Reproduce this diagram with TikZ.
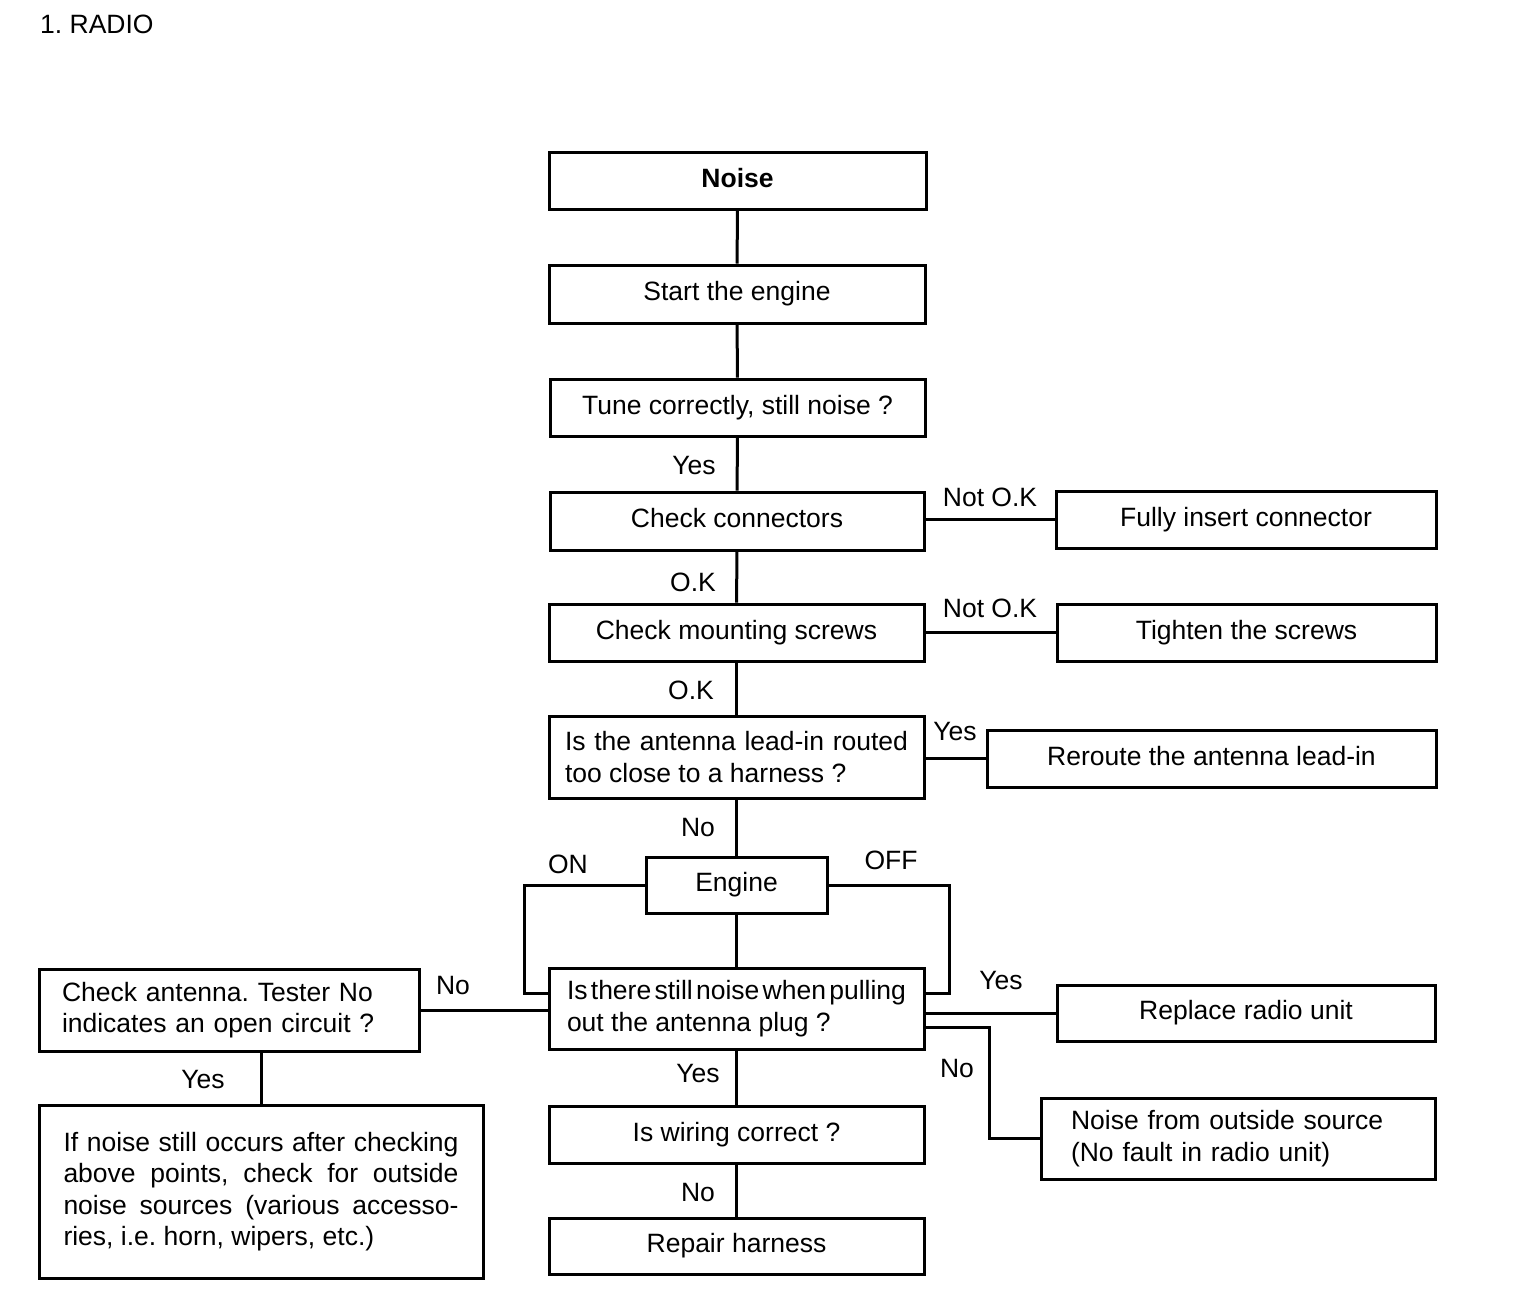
\documentclass[tikz,border=0pt]{standalone}
\usepackage{fontspec}
\setmainfont{Liberation Sans}
\frenchspacing
\begin{document}
\begin{tikzpicture}[x=1pt,y=-1pt,
  txt/.style={font=\fontsize{26.5}{31.5}\selectfont\frenchspacing},
  box/.style={txt,draw,line width=3pt,inner sep=0pt,align=center,text height=19pt,text depth=5.6pt},
  mbox/.style={txt,draw,line width=3pt,inner ysep=0pt},
  lbl/.style={txt,inner sep=0pt,text height=19pt,text depth=0pt},
  conn/.style={line width=3pt}]
\useasboundingbox (0,0) rectangle (1520,1304);
\node[txt,anchor=west,inner sep=0pt] (title) at (40,24) {1. RADIO};
% main column
\node[box,minimum width=377pt,minimum height=57pt,font=\fontsize{26.5}{31.5}\selectfont\bfseries] (noise) at (737.5,180.5) {Noise};
\node[box,minimum width=376pt,minimum height=58pt] (start) at (737,294) {Start the engine};
\node[box,minimum width=375pt,minimum height=57pt] (tune) at (737.5,407.5) {Tune correctly, still noise ?};
\node[box,minimum width=374pt,minimum height=58pt] (conn) at (737,521) {Check connectors};
\node[box,minimum width=380pt,minimum height=57pt] (fully) at (1246,519.5) {Fully insert connector};
\node[box,minimum width=375pt,minimum height=57pt] (screws) at (736.5,632.5) {Check mounting screws};
\node[box,minimum width=379pt,minimum height=57pt] (tighten) at (1246.5,632.5) {Tighten the screws};
\node[mbox,inner xsep=16pt,text width=343pt,minimum height=82pt,align=justify] (lead) at (736.5,757) {Is the antenna lead-in routed too close to a harness ?};
\node[box,minimum width=449pt,minimum height=57pt] (reroute) at (1211.5,758.5) {Reroute the antenna lead-in};
\node[box,minimum width=181pt,minimum height=56pt] (engine) at (736.5,885) {Engine};
\node[mbox,inner xsep=18pt,text width=339pt,minimum height=81pt,align=justify] (pull) at (736.5,1008.5) {{\spaceskip=0.12em plus 1em\relax Is there still noise when pulling}\linebreak out the antenna plug ?};
\node[box,minimum width=378pt,minimum height=56pt] (replace) at (1246,1013) {Replace radio unit};
\node[mbox,inner xsep=30pt,text width=334pt,minimum height=81pt,align=left] (outside) at (1238,1138.5) {Noise from outside source\\(No fault in radio unit)};
\node[mbox,inner xsep=23pt,text width=334pt,minimum height=82pt,align=left] (antenna) at (229,1010) {Check antenna. Tester No\\indicates an open circuit ?};
\node[mbox,inner xsep=24.5pt,text width=395pt,minimum height=173pt,align=justify] (ifnoise) at (261,1191.5) {If noise still occurs after checking\linebreak above points, check for outside\linebreak noise sources (various accesso-\linebreak ries, i.e. horn, wipers, etc.)};
\node[box,minimum width=375pt,minimum height=57pt] (wiring) at (736.5,1134.5) {Is wiring correct ?};
\node[box,minimum width=375pt,minimum height=56pt] (repair) at (736.5,1246) {Repair harness};
% connectors
\draw[conn] (noise) -- (start);
\draw[conn] (start) -- (tune);
\draw[conn] (tune) -- (conn);
\draw[conn] (conn) -- (screws);
\draw[conn] (screws) -- (lead);
\draw[conn] (lead) -- (engine);
\draw[conn] (engine) -- (pull);
\draw[conn] (pull) -- (wiring);
\draw[conn] (wiring) -- (repair);
\draw[conn] (conn.east |- fully.west) -- (fully.west);
\draw[conn] (screws) -- (tighten);
\draw[conn] (lead.east |- reroute.west) -- (reroute.west);
\draw[conn] (antenna) -- (pull.west |- antenna.east);
\draw[conn] (pull.east |- replace.west) -- (replace.west);
\coordinate (nojog) at (989,1027);
\draw[conn] (pull.east |- nojog) -- (nojog) |- (outside.west);
\coordinate (onc) at (524,993);
\draw[conn] (engine.west) -| (onc) -- (pull.west |- onc);
\coordinate (offc) at (949,993);
\draw[conn] (engine.east) -| (offc) -- (pull.east |- offc);
\draw[conn] (ifnoise.north |- antenna.south) -- (ifnoise.north);
% labels
\node[lbl] (l1) at (694,465) {Yes};
\node[lbl] (l2) at (990,497) {Not O.K};
\node[lbl] (l3) at (693,582) {O.K};
\node[lbl] (l4) at (990,608) {Not O.K};
\node[lbl] (l5) at (691,690) {O.K};
\node[lbl] (l6) at (955,731) {Yes};
\node[lbl] (l7) at (698,827) {No};
\node[lbl] (l8) at (568,864) {ON};
\node[lbl] (l9) at (891,860) {OFF};
\node[lbl] (l10) at (453,985) {No};
\node[lbl] (l11) at (1001,980) {Yes};
\node[lbl] (l12) at (957,1068) {No};
\node[lbl] (l13) at (698,1073) {Yes};
\node[lbl] (l14) at (203,1079) {Yes};
\node[lbl] (l15) at (698,1192) {No};
\end{tikzpicture}
\end{document}
